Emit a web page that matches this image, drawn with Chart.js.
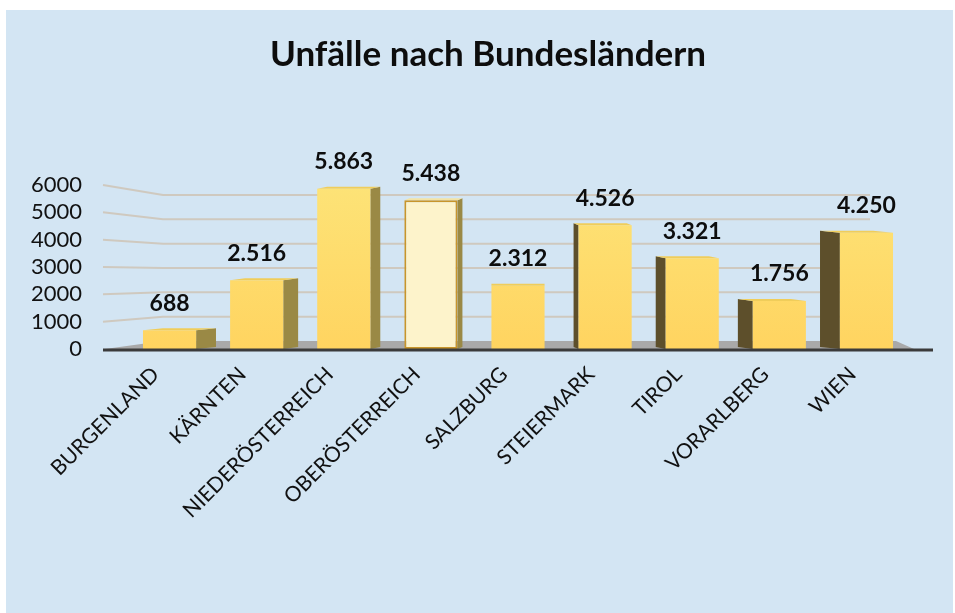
<!DOCTYPE html>
<html>
<head>
    <meta charset="utf-8">
    <title>Unfälle nach Bundesländern</title>
    <script src="https://cdn.jsdelivr.net/npm/chart.js"></script>
    <style>
        html, body { margin: 0; padding: 0; background: #fff; }
        #wrap { width: 955px; height: 613px; }
    </style>
</head>
<body>
    <div id="wrap"><canvas id="unfallChart" width="955" height="613"></canvas></div>

    <script>
        // Daten
        const laender = ['BURGENLAND', 'KÄRNTEN', 'NIEDERÖSTERREICH', 'OBERÖSTERREICH', 'SALZBURG',
                         'STEIERMARK', 'TIROL', 'VORARLBERG', 'WIEN'];
        const unfaelle = [688, 2516, 5863, 5438, 2312, 4526, 3321, 1756, 4250];
        const yTicks = [0, 1000, 2000, 3000, 4000, 5000, 6000];
        const titel = 'Unfälle nach Bundesländern';
        const hervorgehoben = 'OBERÖSTERREICH';

        const FONT = 'Lato, "Open Sans", sans-serif';
        const fmt = v => String(v).replace(/\B(?=(\d{3})+(?!\d))/g, '.');

        // background, title, "3d" wall lines, floor, bar sides, value labels
        const scenePlugin = {
            id: 'scene',
            beforeDraw(chart) {
                const ctx = chart.ctx;
                ctx.save();
                ctx.fillStyle = '#ffffff';
                ctx.fillRect(0, 0, chart.width, chart.height);
                ctx.fillStyle = '#d3e5f3';
                ctx.fillRect(6, 10, chart.width - 8, chart.height - 10);
                ctx.fillStyle = '#0d0d0d';
                ctx.font = 'bold 35px ' + FONT;
                ctx.textAlign = 'center';
                ctx.textBaseline = 'middle';
                ctx.fillText(titel, 488, 55);
                ctx.restore();
            },
            beforeDatasetsDraw(chart) {
                const ctx = chart.ctx;
                const y = chart.scales.y;
                const area = chart.chartArea;
                const backBottom = area.bottom - 8;
                const k = 146 / 164;
                ctx.save();
                // wall lines
                ctx.strokeStyle = '#cfc9bf';
                ctx.lineWidth = 2;
                yTicks.slice(1).forEach(v => {
                    const fy = y.getPixelForValue(v);
                    const by = backBottom - (area.bottom - fy) * k;
                    ctx.beginPath();
                    ctx.moveTo(area.left - 23, fy);
                    ctx.lineTo(area.left + 37, by);
                    ctx.lineTo(area.right - 40, by);
                    ctx.stroke();
                });
                // floor
                ctx.fillStyle = '#a9a9a9';
                ctx.beginPath();
                ctx.moveTo(area.left - 21, area.bottom);
                ctx.lineTo(area.left + 37, backBottom);
                ctx.lineTo(area.right - 14, backBottom);
                ctx.lineTo(area.right + 4, area.bottom);
                ctx.closePath();
                ctx.fill();

                // side + top faces of bars
                const meta = chart.getDatasetMeta(0);
                const vx = 518, dy = -2;
                meta.data.forEach((bar, i) => {
                    const half = bar.width / 2;
                    const l = bar.x - half, r = bar.x + half;
                    const t = bar.y, b = bar.base;
                    const dx = (vx - bar.x) * 0.057;
                    const edge = dx >= 0 ? r : l;
                    ctx.fillStyle = dx >= 0 ? '#9a8945' : '#5d4f2b';
                    ctx.beginPath();
                    ctx.moveTo(edge, t);
                    ctx.lineTo(edge + dx, t + dy);
                    ctx.lineTo(edge + dx, b + dy);
                    ctx.lineTo(edge, b);
                    ctx.closePath();
                    ctx.fill();
                    ctx.fillStyle = laender[i] === hervorgehoben ? '#f3e3a4' : '#f0cd5a';
                    ctx.beginPath();
                    ctx.moveTo(l, t);
                    ctx.lineTo(l + dx, t + dy);
                    ctx.lineTo(r + dx, t + dy);
                    ctx.lineTo(r, t);
                    ctx.closePath();
                    ctx.fill();
                });
                ctx.restore();
            },
            afterDatasetsDraw(chart) {
                const ctx = chart.ctx;
                const area = chart.chartArea;
                ctx.save();
                ctx.strokeStyle = '#3b3b3b';
                ctx.lineWidth = 3;
                ctx.beginPath();
                ctx.moveTo(area.left - 23, area.bottom + 1);
                ctx.lineTo(area.right + 23, area.bottom + 1);
                ctx.stroke();

                // value labels
                ctx.fillStyle = '#0d0d0d';
                ctx.font = 'bold 23px ' + FONT;
                ctx.textAlign = 'center';
                ctx.textBaseline = 'middle';
                const meta = chart.getDatasetMeta(0);
                meta.data.forEach((bar, i) => {
                    ctx.fillText(fmt(unfaelle[i]), bar.x, bar.y - 27);
                });
                ctx.restore();
            }
        };

        function frontFill(context) {
            const chart = context.chart;
            const area = chart.chartArea;
            if (!area) return '#ffd966';
            if (laender[context.dataIndex] === hervorgehoben) return '#fdf3cb';
            const g = chart.ctx.createLinearGradient(0, area.top, 0, area.bottom);
            g.addColorStop(0, '#fde377');
            g.addColorStop(1, '#ffd460');
            return g;
        }

        new Chart(document.getElementById('unfallChart').getContext('2d'), {
            type: 'bar',
            data: {
                labels: laender,
                datasets: [{
                    data: unfaelle,
                    backgroundColor: frontFill,
                    borderColor: ctx => laender[ctx.dataIndex] === hervorgehoben ? '#c8952b' : 'rgba(0,0,0,0)',
                    borderWidth: ctx => laender[ctx.dataIndex] === hervorgehoben ? 2 : 0,
                    borderSkipped: false,
                    categoryPercentage: 1,
                    barPercentage: 0.61
                }]
            },
            plugins: [scenePlugin],
            options: {
                responsive: false,
                animation: false,
                layout: { padding: { left: 0, right: 45, top: 185, bottom: 0 } },
                plugins: {
                    legend: { display: false },
                    tooltip: { enabled: false },
                    title: { display: false }
                },
                scales: {
                    y: {
                        min: 0,
                        max: 6000,
                        ticks: {
                            stepSize: 1000,
                            autoSkip: false,
                            padding: 44,
                            color: '#111',
                            font: { family: FONT, size: 22 },
                            callback: v => String(v)
                        },
                        grid: { display: false, drawTicks: false },
                        border: { display: false },
                        afterFit: s => { s.width = 126; }
                    },
                    x: {
                        ticks: {
                            minRotation: 45,
                            maxRotation: 45,
                            autoSkip: false,
                            padding: 13,
                            labelOffset: -14,
                            color: '#111',
                            font: { family: FONT, size: 21 }
                        },
                        grid: { display: false, drawTicks: false },
                        border: { display: false },
                        afterFit: s => { s.height = 264; }
                    }
                }
            }
        });
    </script>
</body>
</html>
